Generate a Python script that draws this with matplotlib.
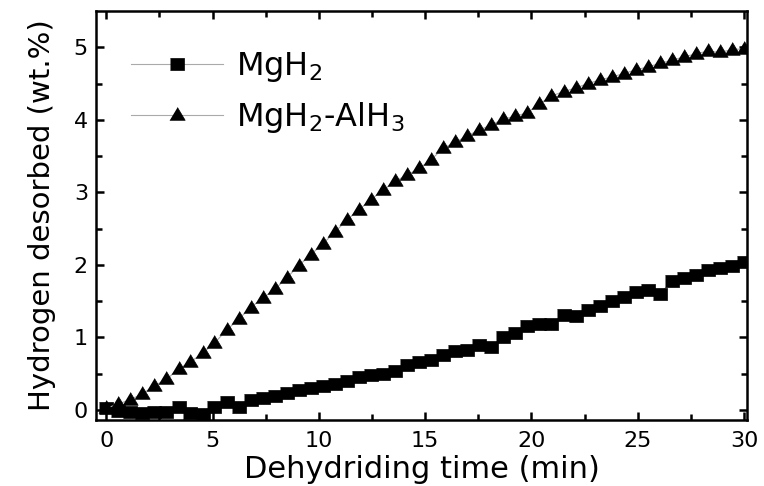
import numpy as np
import matplotlib
matplotlib.use('Agg')
import matplotlib.pyplot as plt

plt.rcParams['font.family'] = ['DejaVu Sans']

# 时间 (min)
time = [0, 0.57, 1.13, 1.70, 2.26, 2.83, 3.40, 3.96, 4.53, 5.09,
        5.66, 6.23, 6.79, 7.36, 7.92, 8.49, 9.06, 9.62, 10.19, 10.75,
        11.32, 11.89, 12.45, 13.02, 13.58, 14.15, 14.72, 15.28, 15.85, 16.42,
        16.98, 17.55, 18.11, 18.68, 19.25, 19.81, 20.38, 20.94, 21.51, 22.08,
        22.64, 23.21, 23.77, 24.34, 24.91, 25.47, 26.04, 26.60, 27.17, 27.74,
        28.30, 28.87, 29.43, 30.0]

# MgH2
mgh2 = [0.03, -0.02, -0.03, -0.04, -0.03, -0.03, 0.04, -0.05, -0.06, 0.04,
        0.11, 0.04, 0.13, 0.16, 0.19, 0.23, 0.27, 0.30, 0.33, 0.36,
        0.39, 0.45, 0.48, 0.50, 0.53, 0.62, 0.66, 0.68, 0.76, 0.81,
        0.83, 0.90, 0.87, 1.00, 1.06, 1.15, 1.19, 1.18, 1.31, 1.30,
        1.38, 1.43, 1.50, 1.55, 1.62, 1.65, 1.60, 1.77, 1.82, 1.86,
        1.93, 1.96, 1.99, 2.04]

# MgH2-AlH3
mgh2_alh3 = [0.02, 0.08, 0.14, 0.22, 0.33, 0.42, 0.56, 0.66, 0.78, 0.92,
             1.10, 1.25, 1.41, 1.54, 1.66, 1.82, 1.99, 2.14, 2.29, 2.45,
             2.62, 2.76, 2.90, 3.03, 3.15, 3.24, 3.33, 3.45, 3.61, 3.69,
             3.78, 3.86, 3.93, 4.01, 4.05, 4.10, 4.22, 4.33, 4.39, 4.44,
             4.50, 4.55, 4.59, 4.64, 4.69, 4.73, 4.78, 4.82, 4.87, 4.91,
             4.95, 4.93, 4.97, 4.98]

# 原图横向拉伸, 用宽一点的标记
sq = [(-1, -0.8), (1, -0.8), (1, 0.8), (-1, 0.8)]
tri = [(-1.2, -0.75), (1.2, -0.75), (0, 1.25)]

fig = plt.figure(figsize=(7.64, 4.86), dpi=100)
ax = fig.add_axes([0.126, 0.136, 0.852, 0.841])

ax.plot(time, mgh2, color='#aaaaaa', lw=0.8, marker=sq, ms=10,
        mfc='black', mec='black', mew=0.5, label='MgH$_2$')
ax.plot(time, mgh2_alh3, color='#aaaaaa', lw=0.8, marker=tri, ms=11.5,
        mfc='black', mec='black', mew=0.5, label='MgH$_2$-AlH$_3$')

ax.set_xlim(-0.47, 30.15)
ax.set_ylim(-0.14, 5.5)
ax.set_xticks([0, 5, 10, 15, 20, 25, 30])
ax.set_xticks(np.arange(2.5, 30, 5), minor=True)
ax.set_yticks([0, 1, 2, 3, 4, 5])
ax.set_yticks(np.arange(0.5, 5.5, 1), minor=True)

ax.tick_params(which='both', direction='in', top=True, right=True, width=1.8)
ax.tick_params(which='major', length=6, labelsize=16)
ax.tick_params(axis='x', which='major', pad=8)
ax.tick_params(axis='y', which='major', pad=6)
ax.tick_params(which='minor', length=4)
for s in ax.spines.values():
    s.set_linewidth(1.8)

ax.set_xlabel('Dehydriding time (min)', fontsize=22, labelpad=3)
ax.set_ylabel('Hydrogen desorbed (wt.%)', fontsize=21, labelpad=13)

ax.legend(loc='upper left', bbox_to_anchor=(0.053, 0.905), frameon=False,
          fontsize=23, handlelength=2.9, labelspacing=0.5,
          borderaxespad=0, borderpad=0, handletextpad=0.4)

fig.savefig('out.png', dpi=100)
